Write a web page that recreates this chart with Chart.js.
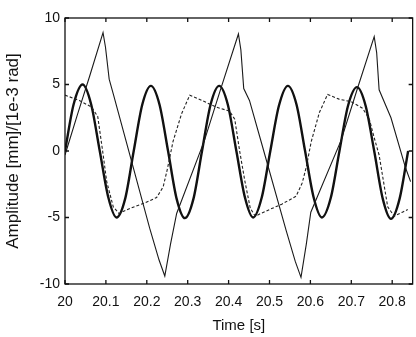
<!DOCTYPE html>
<html>
<head>
<meta charset="utf-8">
<script src="https://cdn.jsdelivr.net/npm/chart.js@4/dist/chart.umd.min.js"></script>
<style>
  body { margin: 0; background: #fff; }
  canvas { display: block; }
</style>
</head>
<body>
<canvas id="chart" width="416" height="337"></canvas>
<script>
// thick solid line (sine-like response)
const thickTime = [20.000, 20.021, 20.043, 20.064, 20.085, 20.106, 20.126, 20.147, 20.168, 20.189,
  20.210, 20.231, 20.252, 20.273, 20.293, 20.314, 20.335, 20.356, 20.377, 20.398,
  20.419, 20.440, 20.460, 20.481, 20.502, 20.523, 20.545, 20.566, 20.587, 20.608,
  20.628, 20.650, 20.671, 20.692, 20.714, 20.735, 20.756, 20.777, 20.797, 20.818, 20.839];
const thickAmp = [0, 3.5, 5.0, 3.5, 0, -3.5, -5.0, -3.6, 0, 3.5,
  4.9, 3.5, 0, -3.6, -5.05, -3.6, 0, 3.5, 4.9, 3.5,
  0, -3.5, -5.0, -3.5, 0, 3.4, 4.9, 3.5, 0, -3.5,
  -5.0, -3.5, 0, 3.4, 4.8, 3.4, 0, -3.6, -5.1, -3.6, 0];

// thin solid line (sawtooth-like)
const thinTime = [20.000, 20.030, 20.060, 20.093, 20.099, 20.108, 20.118, 20.163, 20.207, 20.230,
  20.244, 20.258, 20.273, 20.341, 20.380, 20.424, 20.430, 20.437, 20.451, 20.486,
  20.541, 20.563, 20.577, 20.590, 20.601, 20.675, 20.715, 20.756, 20.762, 20.768,
  20.797, 20.833, 20.845];
const thinAmp = [-0.3, 2.7, 5.6, 8.9, 7.8, 5.4, 4.3, -0.8, -5.8, -8.2,
  -9.4, -7.0, -4.7, 0.8, 4.6, 8.8, 7.6, 4.7, 3.8, 0.0,
  -6.0, -8.3, -9.5, -7.0, -4.6, 0.8, 4.7, 8.6, 7.4, 4.6,
  2.5, -1.3, -2.3];

// dashed line
const dashTime = [20.000, 20.035, 20.065, 20.080, 20.092, 20.102, 20.118, 20.132, 20.160, 20.195,
  20.224, 20.240, 20.250, 20.264, 20.285, 20.305, 20.335, 20.370, 20.402, 20.415,
  20.427, 20.440, 20.453, 20.465, 20.500, 20.530, 20.565, 20.580, 20.590, 20.602,
  20.622, 20.642, 20.670, 20.700, 20.728, 20.744, 20.756, 20.768, 20.789, 20.805,
  20.825, 20.838];
const dashAmp = [4.2, 3.8, 3.3, 2.6, 0.0, -2.3, -4.2, -4.7, -4.3, -3.9,
  -3.5, -2.7, -1.4, 0.7, 2.8, 4.2, 3.8, 3.3, 3.0, 2.4,
  0.0, -2.3, -4.3, -4.9, -4.4, -4.0, -3.4, -2.4, -1.2, 0.7,
  2.9, 4.25, 3.9, 3.7, 3.2, 2.4, 1.0, -0.3, -4.2, -4.9,
  -4.6, -4.4];

const xTicks = [20, 20.1, 20.2, 20.3, 20.4, 20.5, 20.6, 20.7, 20.8];
const xTickLabels = ['20', '20.1', '20.2', '20.3', '20.4', '20.5', '20.6', '20.7', '20.8'];
const yTicks = [-10, -5, 0, 5, 10];
const yTickLabels = ['-10', '-5', '0', '5', '10'];

function points(ts, vs) {
    return ts.map((t, i) => ({ x: t, y: vs[i] }));
}

// box round the plot with small inward ticks
const frame = {
    id: 'frame',
    afterDatasetsDraw(chart) {
        const { ctx, chartArea: a, scales: { x, y } } = chart;
        ctx.save();
        ctx.strokeStyle = '#111';
        ctx.lineWidth = 1.3;
        ctx.strokeRect(a.left, a.top, a.right - a.left, a.bottom - a.top);
        ctx.beginPath();
        x.ticks.forEach(t => {
            const px = x.getPixelForValue(t.value);
            ctx.moveTo(px, a.bottom); ctx.lineTo(px, a.bottom - 4);
            ctx.moveTo(px, a.top); ctx.lineTo(px, a.top + 4);
        });
        y.ticks.forEach(t => {
            const py = y.getPixelForValue(t.value);
            ctx.moveTo(a.left, py); ctx.lineTo(a.left + 4, py);
            ctx.moveTo(a.right, py); ctx.lineTo(a.right - 4, py);
        });
        ctx.stroke();
        ctx.restore();
    }
};

const ctx = document.getElementById('chart').getContext('2d');
new Chart(ctx, {
    type: 'scatter',
    data: {
        datasets: [{
            data: points(dashTime, dashAmp),
            showLine: true,
            borderColor: '#222',
            borderWidth: 1.1,
            borderDash: [3, 2],
            pointRadius: 0,
            tension: 0
        }, {
            data: points(thinTime, thinAmp),
            showLine: true,
            borderColor: '#1a1a1a',
            borderWidth: 1.1,
            pointRadius: 0,
            tension: 0
        }, {
            data: points(thickTime, thickAmp),
            showLine: true,
            borderColor: '#111',
            borderWidth: 2.4,
            pointRadius: 0,
            cubicInterpolationMode: 'monotone'
        }]
    },
    options: {
        responsive: false,
        animation: false,
        layout: { padding: { top: 18, right: 3, left: 0, bottom: 0 } },
        plugins: { legend: { display: false }, tooltip: { enabled: false } },
        scales: {
            x: {
                type: 'linear',
                min: 20,
                max: 20.85,
                afterBuildTicks: s => { s.ticks = xTicks.map(v => ({ value: v })); },
                afterFit: s => { s.height = 53; },
                grid: { display: false, drawTicks: false },
                border: { display: false },
                ticks: {
                    padding: 10,
                    color: '#111',
                    font: { family: 'Liberation Sans', size: 14 },
                    callback: (v, i) => xTickLabels[i]
                },
                title: {
                    display: true,
                    text: 'Time [s]',
                    color: '#111',
                    font: { family: 'Liberation Sans', size: 15 },
                    padding: { top: 0, bottom: 2 }
                }
            },
            y: {
                min: -10,
                max: 10,
                afterBuildTicks: s => { s.ticks = yTicks.map(v => ({ value: v })); },
                afterFit: s => { s.width = 65; },
                grid: { display: false, drawTicks: false },
                border: { display: false },
                ticks: {
                    padding: 5,
                    color: '#111',
                    font: { family: 'Liberation Sans', size: 14 },
                    callback: (v, i) => yTickLabels[i]
                },
                title: {
                    display: true,
                    text: 'Amplitude [mm]/[1e-3 rad]',
                    color: '#111',
                    font: { family: 'Liberation Sans', size: 17 },
                    padding: { top: 3, bottom: 0 }
                }
            }
        }
    },
    plugins: [frame]
});
</script>
</body>
</html>
